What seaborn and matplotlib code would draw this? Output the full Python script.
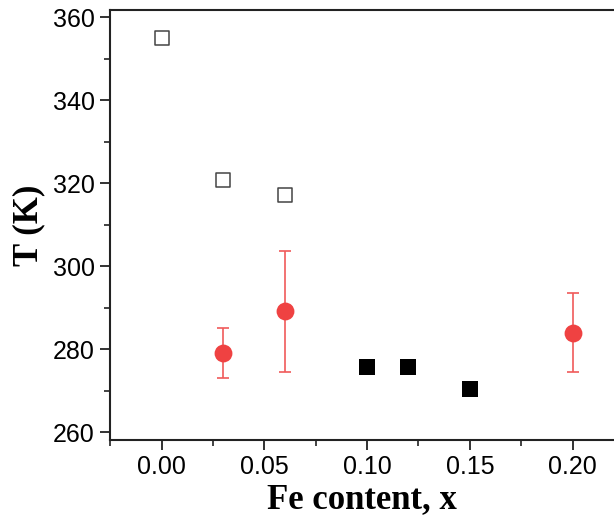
import matplotlib
matplotlib.use("Agg")
import matplotlib.pyplot as plt
import seaborn as sns
import pandas as pd
from matplotlib.ticker import MultipleLocator

# Data
open_x = [0.00, 0.03, 0.06]
open_T = [354.9, 320.7, 317.1]

red_x = [0.03, 0.06, 0.20]
red_T = [279.1, 289.1, 284.0]
red_err = [6.1, 14.5, 9.4]

black_x = [0.10, 0.12, 0.15]
black_T = [275.7, 275.7, 270.4]

sns.set_theme(style="white")
plt.rcParams['font.family'] = ['Liberation Sans', 'DejaVu Sans']

fig = plt.figure(figsize=(6.14, 5.27), dpi=100)
ax = fig.add_axes([110/614, 87/527, 1 - 110/614, (440-10)/527])

ax.errorbar(red_x, red_T, yerr=red_err, fmt='none', ecolor='#f05a5a',
            elinewidth=1.2, capsize=4, capthick=1.2, zorder=2)

sns.scatterplot(data=pd.DataFrame({'x': open_x, 'T': open_T}), x='x', y='T',
                marker='s', s=110, facecolor='white', edgecolor='#444444',
                linewidth=1.1, ax=ax, zorder=3)
sns.scatterplot(data=pd.DataFrame({'x': red_x, 'T': red_T}), x='x', y='T',
                marker='o', s=165, color='#ef4242', edgecolor='#ef4242',
                linewidth=0, ax=ax, zorder=3)
sns.scatterplot(data=pd.DataFrame({'x': black_x, 'T': black_T}), x='x', y='T',
                marker='s', s=130, color='black', edgecolor='black',
                linewidth=0, ax=ax, zorder=3)

ax.set_xlim(-0.0252, 0.2202)
ax.set_ylim(258.1, 361.7)
ax.xaxis.set_major_locator(MultipleLocator(0.05))
ax.xaxis.set_minor_locator(MultipleLocator(0.025))
ax.yaxis.set_major_locator(MultipleLocator(20))
ax.yaxis.set_minor_locator(MultipleLocator(10))
ax.set_xticklabels([f"{v:.2f}" for v in ax.get_xticks()])

for side in ['left', 'bottom', 'top']:
    ax.spines[side].set_visible(True)
    ax.spines[side].set_color('#222222')
    ax.spines[side].set_linewidth(1.5)
ax.spines['right'].set_visible(False)

ax.tick_params(axis='both', which='major', direction='out', length=7, width=1.3,
               color='#222222', labelsize=18, labelcolor='black',
               bottom=True, left=True, top=False, right=False, pad=4)
ax.tick_params(axis='both', which='minor', direction='out', length=4, width=1.2,
               color='#222222', bottom=True, left=True, top=False, right=False)

ax.set_xlabel('Fe content, x', fontfamily='Liberation Serif', fontweight='bold',
              fontsize=25, labelpad=3, color='black')
ax.set_ylabel('T (K)', fontfamily='Liberation Serif', fontweight='bold',
              fontsize=25, labelpad=5, color='black')
ax.grid(False)

fig.savefig('out.png', dpi=100)
